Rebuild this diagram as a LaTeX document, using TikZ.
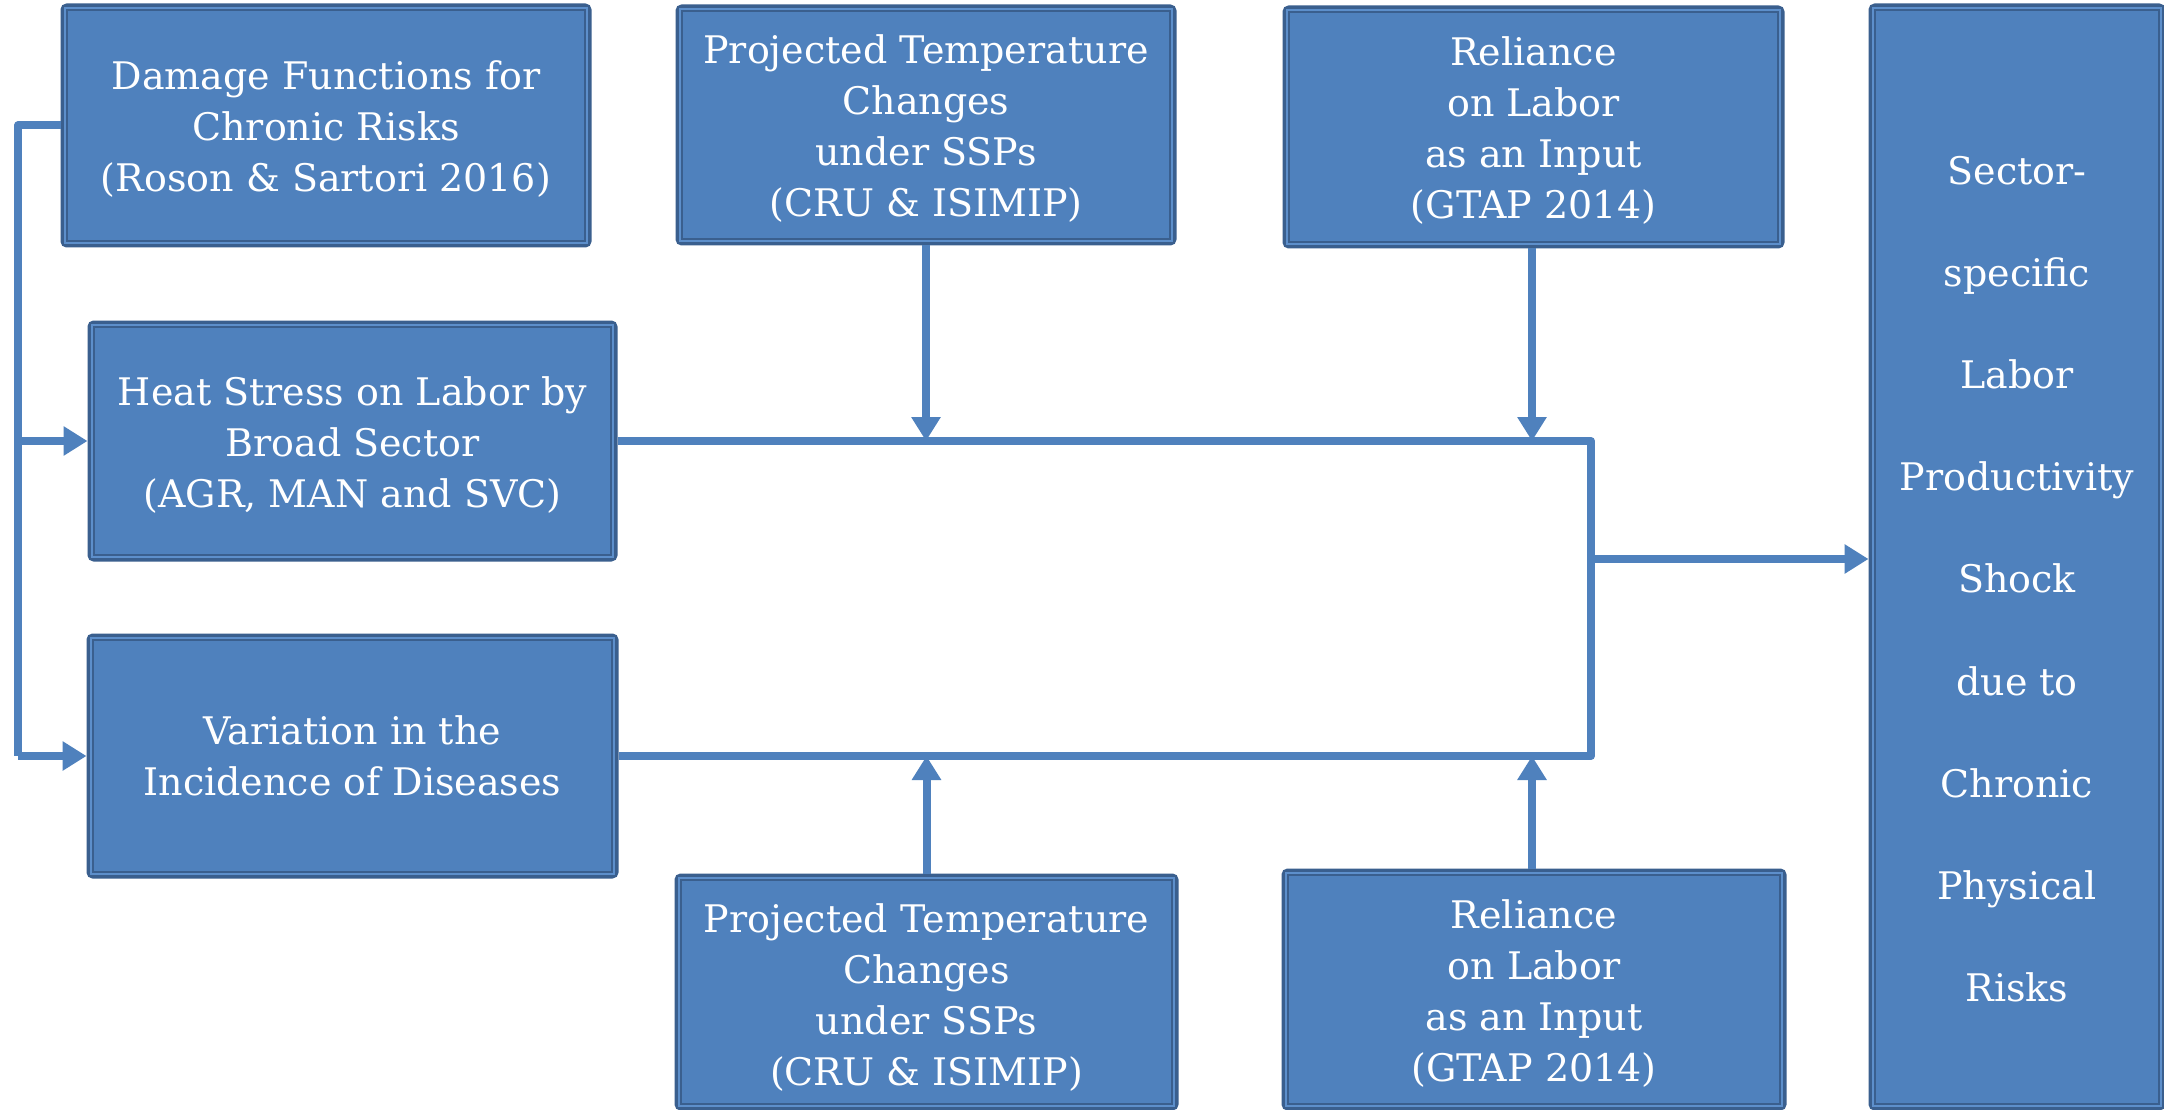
\documentclass[tikz,border=0pt]{standalone}
\usepackage{fontspec}
\setmainfont{DejaVu Serif}
\usetikzlibrary{arrows.meta,calc}
\definecolor{boxblue}{HTML}{4F81BD}
\definecolor{boxdark}{HTML}{3A5F8E}
\definecolor{boxlight}{HTML}{5D8FCB}
\definecolor{lineblue}{HTML}{4F81BD}
\tikzset{
  panel/.style={rectangle, rounded corners=3pt, fill=boxblue, draw=boxdark, line width=7pt, inner sep=0pt},
  txt/.style={text=white, align=center, inner sep=0pt, font=\fontsize{38}{51}\selectfont},
  innerlight/.style={draw=boxlight, line width=2pt},
  innerdark/.style={draw=boxdark, line width=2pt},
  conn/.style={draw=lineblue, line width=8pt},
  arr/.style={conn, -{Triangle[length=24pt 0 0,width=28pt 0 0]}},
  htext/.style={text=white, align=center, inner sep=0pt, font=\fontsize{38}{102.2}\selectfont}
}
\begin{document}
\begin{tikzpicture}[x=1pt,y=-1pt]
\useasboundingbox (0,0) rectangle (2164,1110);
\clip (0,0) rectangle (2164,1110);
\fill[white] (0,0) rectangle (2164,1110);

\node[panel, minimum width=524pt, minimum height=237pt] (A) at (326,125.5) {};
\node[panel, minimum width=523pt, minimum height=234pt] (B) at (352.5,441) {};
\node[panel, minimum width=525pt, minimum height=238pt] (C) at (352.5,756) {};
\node[panel, minimum width=494pt, minimum height=234pt] (D) at (926,125) {};
\node[panel, minimum width=495pt, minimum height=236pt] (E) at (1533.5,127) {};
\node[panel, minimum width=497pt, minimum height=230pt] (F) at (926.5,992) {};
\node[panel, minimum width=498pt, minimum height=235pt] (G) at (1534,989.5) {};
\node[panel, minimum width=290pt, minimum height=1100pt] (H) at (2017,557) {};

\foreach \n in {A,B,C,D,E,F,G,H}{
  \draw[innerlight] ([xshift=4.5pt,yshift=-4.5pt]\n.north west) rectangle ([xshift=-4.5pt,yshift=4.5pt]\n.south east);
  \draw[innerdark] ([xshift=6.5pt,yshift=-6.5pt]\n.north west) rectangle ([xshift=-6.5pt,yshift=6.5pt]\n.south east);
}

\node[txt] (At) at ([yshift=-4pt]A.center) {Damage Functions for\\Chronic Risks\\(Roson \& Sartori 2016)};
\node[txt] (Bt) at ([yshift=-4pt]B.center) {Heat Stress on Labor by\\Broad Sector\\(AGR, MAN and SVC)};
\node[txt] (Ct) at (C.center) {Variation in the\\Incidence of Diseases};
\node[txt] (Dt) at ([yshift=-4pt]D.center) {Projected Temperature\\Changes\\under SSPs\\(CRU \& ISIMIP)};
\node[txt] (Et) at ([yshift=-4pt]E.center) {Reliance\\on Labor\\as an Input\\(GTAP 2014)};
\node[txt] (Ft) at ([yshift=-6pt]F.center) {Projected Temperature\\Changes\\under SSPs\\(CRU \& ISIMIP)};
\node[txt] (Gt) at ([yshift=-4pt]G.center) {Reliance\\on Labor\\as an Input\\(GTAP 2014)};
\node[htext] (Ht) at (2017,579)
  {Sector-\\specific\\Labor\\Productivity\\Shock\\due to\\Chronic\\Physical\\Risks};

\coordinate (lx) at (18,0);
\coordinate (rx) at (1591,0);

% left bracket
\draw[conn, line join=round] (A.west) -- (A.west -| lx) -- (C.west -| lx);
\draw[arr] (C.west -| lx) -- (C.west);
\draw[arr] (B.west -| lx) -- (B.west);

% right bracket
\draw[conn, line join=round] (B.east) -- (B.east -| rx) -- (C.east -| rx) -- (C.east);
\draw[arr] (rx |- 0,559) -- (H.west |- 0,559);

% vertical inputs
\draw[arr] (D.south) -- (D.south |- B.east);
\draw[arr] ([xshift=-1.5pt]E.south) -- ([xshift=-1.5pt]E.south |- B.east);
\draw[arr] (F.north) -- (F.north |- C.east);
\draw[arr] ([xshift=-2pt]G.north) -- ([xshift=-2pt]G.north |- C.east);
\end{tikzpicture}
\end{document}
